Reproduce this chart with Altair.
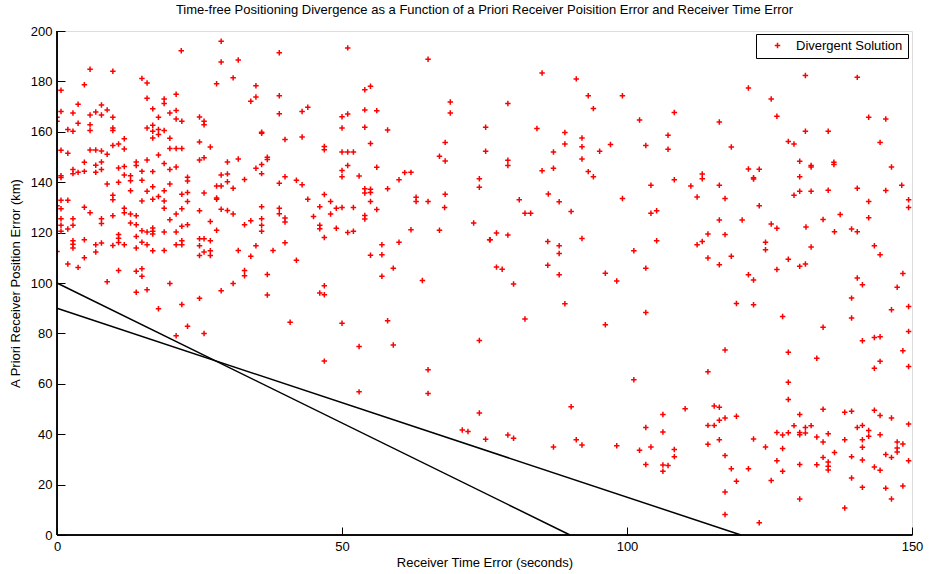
import altair as alt
import pandas as pd

TITLE = "Time-free Positioning Divergence as a Function of a Priori Receiver Poisition Error and Receiver Time Error"
X_TITLE = "Receiver Time Error (seconds)"
Y_TITLE = "A Priori Receiver Position Error (km)"
SERIES = "Divergent Solution"
X_TICKS = [0, 50, 100, 150]
Y_TICKS = [0, 20, 40, 60, 80, 100, 120, 140, 160, 180, 200]

# boundary lines (time, position)
line_a_time = [0, 90]
line_a_pos = [100, 0]
line_b_time = [0, 120]
line_b_pos = [90, 0]

# divergent solutions (receiver time error s, a-priori position error km), by region
top_left_a = [(28.8,195.9),(21.8,192.2),(28.8,187.7),(31.8,188.5),(5.8,184.8),(9.8,184.0),(14.9,181.2),(15.8,179.4),(30.9,181.4),(4.8,178.7),(28.0,179.1),(34.9,178.3),(0.7,176.5),(34.9,173.8),(34.0,172.1),(15.8,173.3),(18.8,173.0),(18.8,171.2),(20.9,174.9),(3.7,170.9),(7.8,170.6),(16.8,169.1),(0.7,168.1),(2.8,167.5),(5.8,166.7),(6.8,167.9),(7.8,166.7),(8.8,168.7),(9.8,165.8),(19.8,167.5),(20.9,168.5),(0.0,165.8),(0.0,164.2),(20.9,165.1),(21.9,164.2),(25.0,165.9),(25.8,164.2),(25.8,162.8),(17.8,165.8),(3.7,163.4),(5.8,162.8),(5.8,160.5),(1.9,160.9),(2.8,160.2),(9.8,161.5),(9.8,160.5),(15.8,161.5),(16.8,162.6),(16.8,160.2),(17.8,160.9),(18.8,160.5),(17.8,158.9),(16.8,157.5),(35.9,159.8),(35.9,159.4),(11.8,157.2),(19.8,157.4),(25.0,156.0),(26.9,154.0)]
top_left_b = [(0.7,152.7),(1.9,151.5),(5.8,152.8),(6.8,152.8),(7.8,152.4),(8.8,151.1),(9.8,154.6),(10.8,155.2),(11.8,153.2),(19.8,153.4),(20.9,153.4),(21.9,153.4),(17.8,150.8),(25.0,148.8),(25.8,149.7),(31.8,149.2),(36.9,149.9),(36.9,149.0),(35.9,147.0),(34.9,145.5),(35.9,143.4),(29.9,148.0),(4.8,147.9),(7.8,148.0),(6.8,146.7),(7.8,145.0),(2.8,145.0),(2.8,143.4),(3.7,143.9),(4.8,144.3),(6.8,143.9),(0.7,142.6),(0.7,141.9),(10.8,145.6),(11.8,146.2),(13.9,148.0),(13.9,146.6),(15.8,148.8),(18.8,147.4),(20.9,146.0),(19.8,145.0),(16.8,144.2),(14.9,144.3),(11.8,142.9),(12.9,142.6),(12.9,140.6),(14.9,140.8),(22.9,142.0),(22.9,140.5),(28.8,142.9),(29.9,143.3),(29.9,140.2),(28.0,138.5),(28.8,138.5),(30.9,137.6),(32.9,141.1),(8.8,139.3),(10.8,140.0),(12.9,136.6),(15.8,136.4),(16.8,138.2),(18.8,136.6),(19.8,139.3),(21.9,135.2),(22.9,135.9),(25.8,135.7),(28.0,133.7),(9.8,134.8),(9.8,133.0),(0.7,132.8),(1.9,132.8),(14.9,132.5),(16.8,133.2),(17.8,134.3),(18.8,132.5),(22.9,132.3),(28.0,133.2)]
mid_left_a = [(0.0,130.7),(0.7,129.5),(0.7,125.5),(0.7,122.9),(0.7,120.5),(1.9,121.4),(2.8,125.5),(2.8,122.9),(4.8,130.1),(5.8,127.9),(7.8,125.5),(7.8,123.6),(9.8,126.7),(11.8,129.7),(11.8,127.9),(12.9,127.4),(12.9,123.8),(13.9,126.7),(13.9,123.1),(18.8,129.7),(20.9,127.4),(21.9,129.5),(19.8,125.1),(21.9,122.5),(22.9,123.1),(25.0,128.7),(26.9,124.4),(28.0,120.9),(28.8,129.3),(29.9,128.8),(30.9,127.4),(32.9,123.1),(34.0,124.7),(35.9,130.3),(35.9,125.5),(35.9,122.9),(35.9,120.5),(0.0,112.5),(2.8,116.8),(2.8,115.4),(2.8,113.9),(4.8,117.2),(6.8,115.2),(6.8,112.3),(7.8,115.9),(9.8,114.9),(10.8,119.2),(10.8,117.8),(10.8,116.1),(11.8,115.2),(13.9,118.5),(13.9,113.9),(14.9,120.7),(14.9,116.2),(15.8,120.2),(15.8,115.2),(16.8,121.8),(16.8,120.5),(16.8,119.4),(16.8,112.8),(18.8,120.2),(18.8,112.9),(20.9,120.2),(20.9,115.2),(21.9,116.8),(21.9,115.2),(25.0,117.6),(25.0,114.8),(25.0,110.9),(25.8,117.6),(25.8,112.3),(26.9,116.8),(26.9,112.8),(26.9,110.9),(31.8,112.9),(34.0,110.6),(34.9,114.8),(37.9,112.9)]
mid_left_b = [(4.8,110.0),(1.9,107.5),(3.7,106.2),(10.8,105.0),(13.9,104.7),(14.9,105.7),(14.9,102.7),(8.8,100.5),(13.9,96.3),(15.8,97.3),(19.8,99.8),(28.8,96.9),(30.9,99.8),(32.9,105.0),(32.9,102.9),(36.9,103.4),(36.9,95.2),(25.0,93.9),(21.9,91.5),(17.8,89.8),(22.9,82.8),(20.9,79.1),(25.8,80.0)]
top_center_left = [(39.0,191.4),(51.0,193.3),(65.1,188.8),(39.0,174.3),(54.0,176.7),(55.0,178.1),(69.0,171.8),(69.0,167.5),(39.0,167.2),(43.0,168.1),(44.0,169.7),(50.0,166.0),(51.0,167.1),(54.0,168.7),(56.1,168.4),(50.0,161.5),(54.0,161.8),(58.0,160.7),(75.2,161.8),(40.0,156.9),(43.0,157.9),(46.9,154.2),(46.9,152.9),(55.0,155.4),(68.1,155.8),(50.0,152.0),(51.0,152.0),(52.0,152.0),(67.1,150.3),(68.1,148.4),(75.2,152.3),(51.0,146.6),(50.0,144.6),(50.0,142.2),(56.1,145.9),(53.0,142.5),(40.0,142.2),(39.0,139.6),(42.0,140.8),(43.0,139.0),(60.0,141.0),(61.0,143.8),(62.1,143.9),(54.0,137.4),(54.0,135.7),(55.0,137.2),(55.0,135.9),(58.0,137.4),(74.1,141.4),(74.1,138.0),(46.9,135.1),(44.0,133.2),(48.0,132.3),(63.0,134.0),(63.0,132.3),(65.1,132.3),(68.1,135.2),(55.0,132.3)]
mid_center_left = [(39.0,129.7),(39.0,127.5),(40.0,125.8),(40.0,124.2),(46.1,130.3),(48.0,127.4),(49.0,129.7),(50.0,130.0),(52.0,130.0),(56.1,129.2),(54.0,126.8),(54.0,125.4),(45.0,126.4),(46.1,122.9),(46.1,121.5),(49.0,121.7),(51.0,120.0),(52.0,120.5),(46.9,118.1),(68.0,130.0),(62.1,121.1),(67.1,120.9),(73.1,123.8),(75.9,117.2),(40.0,116.0),(42.0,109.0),(57.0,115.2),(57.0,111.2),(60.0,116.2),(55.0,111.0),(59.0,105.9),(57.0,102.7),(64.1,101.0),(46.9,98.9),(46.1,96.0),(46.9,95.3),(40.9,84.4),(50.0,84.0),(58.0,85.0),(53.0,74.8),(59.0,75.4),(74.1,77.2),(46.9,69.0),(65.1,65.6)]
low_center_left = [(53.0,56.8),(65.1,56.2),(74.1,48.4),(71.1,41.7),(72.1,41.1),(75.2,38.0)]
top_center_right = [(85.1,183.3),(91.1,181.0),(93.2,174.3),(99.2,174.3),(94.1,169.2),(79.1,171.2),(108.3,167.7),(102.2,164.7),(84.2,161.3),(89.1,159.7),(92.1,157.5),(92.1,154.1),(92.1,149.2),(89.1,155.2),(97.1,155.0),(95.2,152.3),(103.3,154.6),(107.2,158.6),(107.2,153.1),(87.1,152.0),(79.1,148.7),(79.1,146.6),(85.1,144.5),(87.1,145.5),(93.2,144.2),(94.1,142.2),(104.2,138.8),(108.3,141.0),(111.2,138.5),(113.2,143.3),(113.2,141.4),(112.3,134.1),(86.2,135.3),(81.1,133.0),(88.1,132.2),(99.2,133.5)]
mid_center_right = [(82.1,127.7),(83.1,127.7),(90.2,128.4),(104.2,127.7),(105.2,128.7),(77.1,119.8),(79.1,119.0),(76.0,117.2),(86.1,116.5),(88.1,114.8),(88.1,111.7),(92.1,117.7),(105.2,116.8),(101.2,112.8),(112.3,115.2),(113.2,116.5),(77.1,106.3),(78.1,105.5),(86.1,107.0),(88.1,103.3),(96.2,103.9),(98.2,100.8),(103.3,105.9),(80.1,99.6),(89.1,91.8),(82.1,85.7),(103.3,88.3),(96.2,83.4)]
low_center_right = [(101.2,61.6),(90.2,50.9),(110.2,50.1),(106.3,47.8),(103.3,42.7),(106.3,40.9),(79.1,39.7),(80.1,38.4),(87.1,34.9),(91.1,37.8),(92.1,35.7),(98.2,35.4),(102.2,33.6),(104.2,34.9),(108.3,33.9),(108.3,31.1),(103.3,28.0),(106.3,27.8),(107.2,27.6),(106.3,25.3)]
top_right = [(131.3,182.3),(140.4,181.6),(121.3,177.4),(125.3,173.0),(126.3,166.2),(142.4,165.8),(145.4,165.1),(116.2,163.9),(131.3,160.2),(135.3,160.2),(118.3,154.0),(128.3,156.2),(129.3,155.2),(144.4,155.8),(130.3,148.3),(132.3,146.6),(132.3,146.0),(136.3,147.9),(136.3,147.0),(146.4,146.0),(121.3,145.2),(123.2,145.1),(122.2,141.8),(122.2,141.3),(130.3,142.2),(116.2,138.8),(130.3,136.4),(132.3,136.4),(135.3,136.8),(140.4,137.6),(145.4,136.7),(148.2,138.8),(129.3,134.8),(117.2,133.5),(142.4,132.3),(149.4,133.0)]
mid_right = [(123.2,130.7),(149.4,130.0),(116.2,125.0),(120.2,125.0),(125.3,123.4),(126.3,121.7),(131.4,122.2),(134.4,125.2),(137.4,127.2),(142.4,125.9),(114.2,119.4),(117.2,119.2),(124.3,116.2),(124.3,113.2),(132.3,114.3),(136.4,120.3),(139.4,121.4),(140.4,120.3),(143.4,114.8),(144.4,111.2),(114.2,109.9),(118.3,110.6),(116.2,107.2),(128.3,109.4),(126.3,105.4),(130.3,106.6),(131.3,107.5),(121.3,103.3),(122.2,101.2),(140.4,102.0),(141.3,99.3),(148.4,103.8),(147.4,98.3),(139.4,94.0),(119.2,91.9),(122.2,91.4),(146.4,89.4),(149.4,90.7),(127.3,86.7),(139.4,86.1),(134.4,82.4),(149.4,80.8),(141.3,77.1),(143.4,78.4),(144.4,78.7),(117.2,73.4),(128.3,72.5),(133.3,70.1),(148.4,73.1),(144.4,68.9),(143.4,66.2),(149.4,66.9),(114.2,64.8)]
low_right = [(128.3,60.6),(128.3,53.8),(115.3,51.2),(116.2,50.7),(114.2,43.5),(115.3,43.5),(116.2,45.5),(117.2,46.4),(119.2,47.1),(116.2,37.8),(114.2,36.0),(117.2,31.5),(118.3,26.3),(121.3,26.3),(119.2,21.3),(122.2,38.1),(124.3,34.9),(126.3,40.7),(127.3,39.7),(128.3,40.6),(129.3,43.4),(130.3,47.8),(130.3,40.7),(130.3,39.8),(131.3,42.7),(131.3,40.5),(132.3,43.4),(127.3,34.3),(126.3,29.5),(127.3,25.3),(125.3,21.6),(130.3,28.0),(130.3,14.3),(133.3,38.9),(134.4,49.9),(134.4,36.9),(135.3,40.2),(133.3,27.9),(135.3,29.0),(135.3,27.3),(135.3,25.8),(134.4,30.8),(136.4,32.7),(138.2,48.7),(139.4,49.1),(139.4,31.1),(138.2,37.8),(140.4,42.7),(141.3,43.5),(142.4,41.5),(142.4,39.2),(141.3,37.8),(141.3,34.8),(141.3,29.8),(143.4,49.5),(144.4,47.4),(144.4,39.8),(146.4,46.4),(145.4,31.9),(146.4,30.8),(147.4,36.9),(147.4,34.5),(147.4,32.9),(148.4,36.1),(149.4,44.0),(149.4,29.5),(143.4,27.0),(144.4,25.7),(139.4,22.6),(141.3,18.9),(145.4,18.6),(146.4,14.3),(148.4,19.4),(138.2,10.7),(123.2,4.9),(117.2,17.1),(117.2,8.1)]

FONT = "Liberation Sans"
PLUS = "M-1,0L1,0M0,-1L0,1"

points = (top_left_a + top_left_b + mid_left_a + mid_left_b + top_center_left
          + mid_center_left + low_center_left + top_center_right + mid_center_right
          + low_center_right + top_right + mid_right + low_right)
pts_df = pd.DataFrame(points, columns=["time", "pos"])
pts_df["series"] = SERIES

lines_df = pd.DataFrame({
    "time": line_a_time + line_b_time,
    "pos": line_a_pos + line_b_pos,
    "line": ["a", "a", "b", "b"],
})

x_scale = alt.Scale(domain=[0, 150], nice=False, zero=False)
y_scale = alt.Scale(domain=[0, 200], nice=False, zero=False)

x_axis = alt.Axis(values=X_TICKS, title=X_TITLE, offset=-8, tickSize=8, domain=False,
                  grid=False, labelPadding=5, titlePadding=3, tickColor="black",
                  labelColor="black", titleColor="black", labelFontSize=13, titleFontSize=13,
                  titleFontWeight="normal", labelFont=FONT, titleFont=FONT, labelFlush=False)
y_axis = alt.Axis(values=Y_TICKS, title=Y_TITLE, offset=-8, tickSize=8, domain=False,
                  grid=False, labelPadding=5, titlePadding=8, tickColor="black",
                  labelColor="black", titleColor="black", labelFontSize=13, titleFontSize=13,
                  titleFontWeight="normal", labelFont=FONT, titleFont=FONT, labelFlush=False)

pts_layer = alt.Chart(pts_df).mark_point(
    shape=PLUS, filled=False, size=30, strokeWidth=1.5, opacity=1, clip=True
).encode(
    x=alt.X("time:Q", scale=x_scale, axis=x_axis),
    y=alt.Y("pos:Q", scale=y_scale, axis=y_axis),
    color=alt.Color("series:N", scale=alt.Scale(range=["#ff0000"]),
                    legend=alt.Legend(title=None, orient="none", legendX=699, legendY=3,
                                      symbolType=PLUS, symbolSize=30, symbolStrokeWidth=1.5,
                                      symbolOffset=10, labelOffset=12, labelFontSize=13,
                                      labelFont=FONT, labelColor="black", strokeColor="black",
                                      fillColor="white", padding=5, cornerRadius=0)),
)

lines_layer = alt.Chart(lines_df).mark_line(color="black", strokeWidth=1.5).encode(
    x=alt.X("time:Q", scale=x_scale),
    y=alt.Y("pos:Q", scale=y_scale),
    detail="line:N",
)

x_domain = alt.Chart(lines_df).mark_rule(color="black", strokeWidth=1).encode(
    x=alt.datum(0, scale=x_scale), x2=alt.datum(150), y=alt.datum(0, scale=y_scale)
)
y_domain = alt.Chart(lines_df).mark_rule(color="black", strokeWidth=1).encode(
    x=alt.datum(0, scale=x_scale), y=alt.datum(0, scale=y_scale), y2=alt.datum(200)
)

chart = alt.layer(lines_layer, pts_layer, x_domain, y_domain).properties(
    width=855, height=504,
    title=alt.TitleParams(TITLE, fontSize=13, fontWeight="normal", font=FONT,
                          color="black", anchor="middle", offset=8),
    autosize=alt.AutoSizeParams(type="none"),
    padding={"left": 57, "top": 31, "right": 17, "bottom": 39},
).configure_view(strokeOpacity=0).configure(background="white")

chart.save("out.html", embed_options={"renderer": "svg", "actions": False})
